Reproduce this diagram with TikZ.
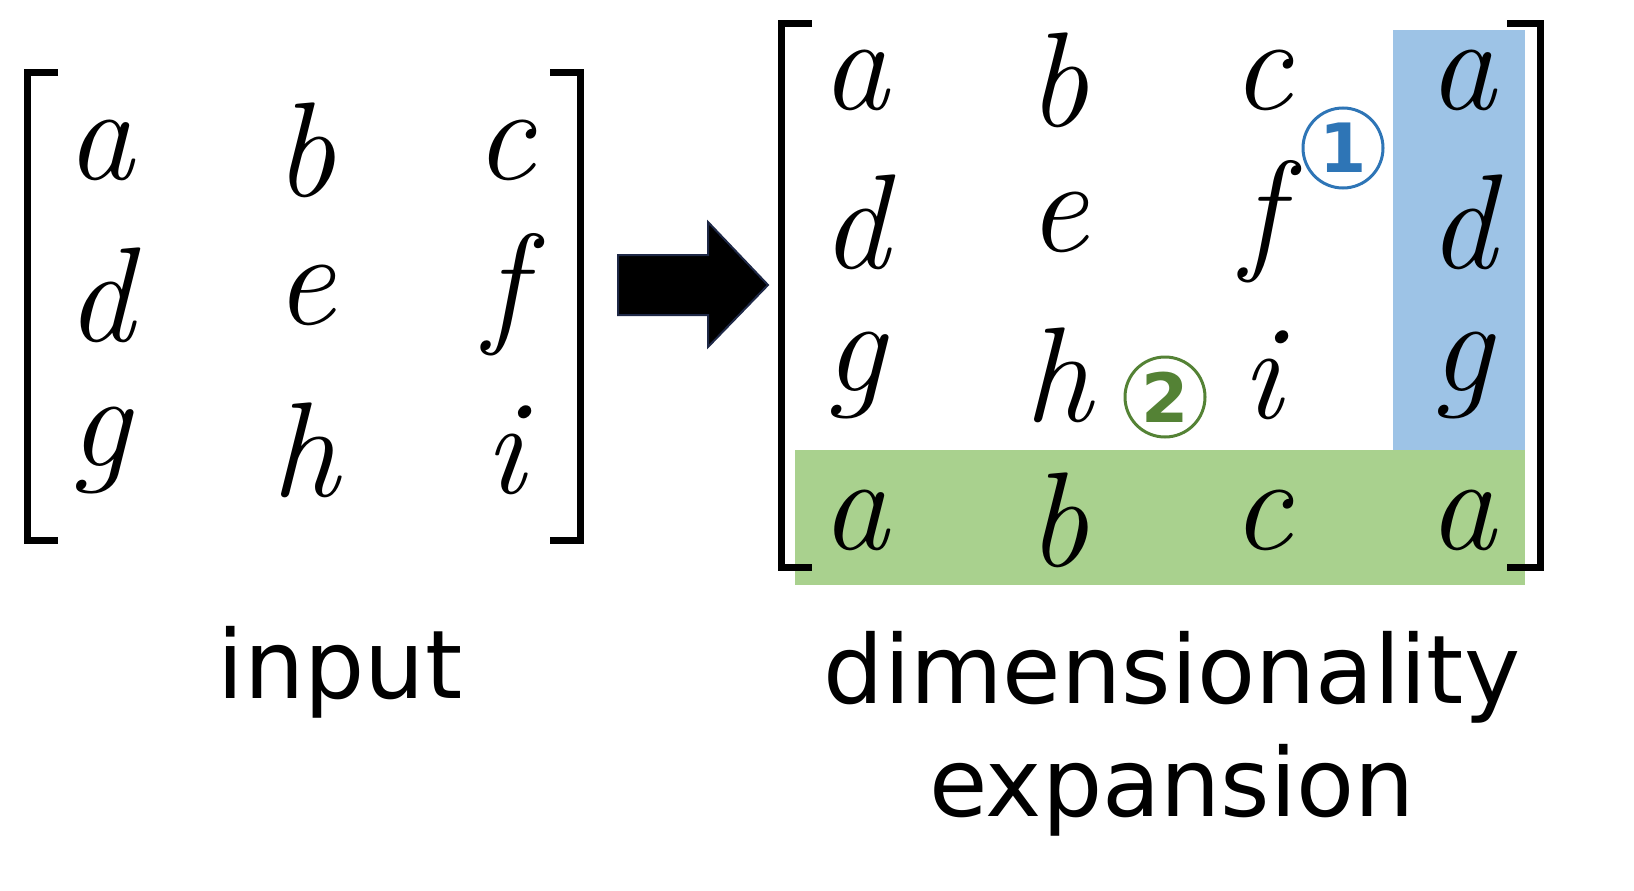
\documentclass[tikz,border=0pt]{standalone}
\usepackage{fontspec}
\setsansfont{DejaVu Sans}
\definecolor{bblue}{HTML}{9DC3E6}
\definecolor{ggreen}{HTML}{A9D18E}
\definecolor{cblue}{HTML}{2E75B6}
\definecolor{cgreen}{HTML}{548235}
\begin{document}
\begin{tikzpicture}[x=1pt,y=-1pt,
  ent/.style={inner sep=0pt,font=\rmfamily\itshape\fontsize{135}{135}\selectfont},
  lab/.style={inner sep=0pt,font=\sffamily\fontsize{95}{95}\selectfont},
  brk/.style={line width=7pt},
  circ/.style={circle,draw,line width=3pt,minimum size=80pt,inner sep=0pt,font=\sffamily\bfseries\fontsize{68}{68}\selectfont}]
\useasboundingbox (0,0) rectangle (1634,891);
% left matrix
\draw[brk] (58,73) -- (27,73) -- (27,540) -- (58,540);
\draw[brk] (550,73) -- (580,73) -- (580,540) -- (550,540);
\foreach \t/\x/\y in {a/100/150,b/305/150,c/505/150,d/100/295,e/305/295,f/505/295,g/100/450,h/305/450,i/505/450}
  \node[ent] (l\t) at (\x,\y) {\t};
% arrow
\draw[fill=black,draw={rgb,255:red,30;green,40;blue,70},line width=2pt]
  (618,255) -- (708,255) -- (708,222) -- (768,285) -- (708,347) -- (708,315) -- (618,315) -- cycle;
% right matrix
\fill[bblue] (1393,30) rectangle (1525,452);
\fill[ggreen] (795,450) rectangle (1525,585);
\draw[brk] (812,24) -- (781,24) -- (781,567) -- (812,567);
\draw[brk] (1507,24) -- (1540,24) -- (1540,567) -- (1507,567);
\foreach \t/\x/\y [count=\k] in {a/855/80,b/1058/80,c/1262/80,a/1462/80,d/855/222,e/1058/222,f/1262/222,d/1462/222,g/855/375,h/1058/375,i/1262/375,g/1462/375,a/855/520,b/1058/520,c/1262/520,a/1462/520}
  \node[ent] (r\k) at (\x,\y) {\t};
\node[circ,draw=cblue,text=cblue] (c1) at (1343,148) {1};
\node[circ,draw=cgreen,text=cgreen] (c2) at (1165,397) {2};
\node[lab] (in) at (340,672) {input};
\node[lab] (dim) at (1172,677) {dimensionality};
\node[lab] (exp) at (1172,790) {expansion};
\end{tikzpicture}
\end{document}
